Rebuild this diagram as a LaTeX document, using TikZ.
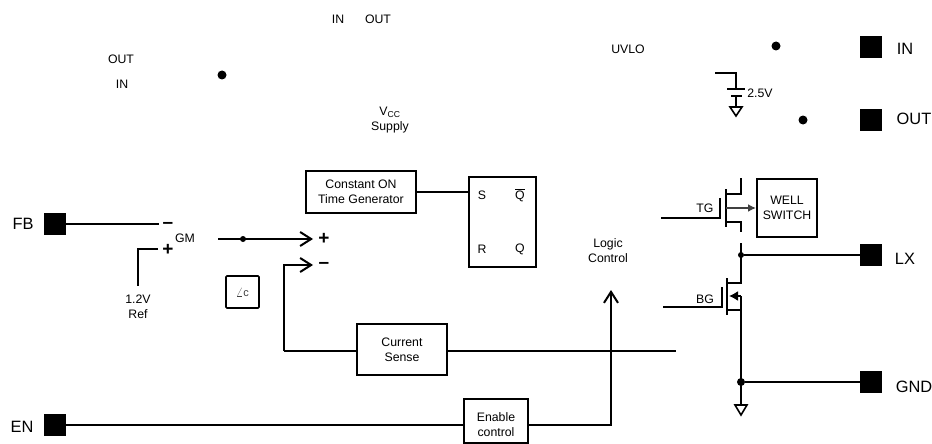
\documentclass[tikz,border=0pt]{standalone}
\usepackage{fontspec}
\setmainfont{Liberation Sans}
\usetikzlibrary{calc,arrows.meta}

\tikzset{
	pad/.style={fill=black, minimum size=22pt, inner sep=0pt},
	padtext/.style={font=\fontsize{16.4}{18}\selectfont},
	txt/.style={font=\fontsize{12.3}{15}\selectfont, align=center, inner sep=0pt},
	sign/.style={font=\fontsize{19}{19}\selectfont\bfseries, inner sep=0pt},
	blockbox/.style={draw, line width=2pt, inner sep=0pt, font=\fontsize{12.3}{15}\selectfont, align=center},
	wire/.style={line width=2pt},
	barb/.style={wire, -{Straight Barb[length=11pt,width=14pt,line width=2pt]}},
	dot/.style={circle, fill=black, inner sep=0pt},
	gndtri/.style={draw, line width=1.6pt, fill=white, line join=miter},
}

\begin{document}
\begin{tikzpicture}[x=1pt, y=-1pt]

% bounding box %{{{1

	\useasboundingbox (0,0) rectangle (932,444);

% pads %{{{1

	\node[pad] (FB) at (55,224) {};
	\node[pad] (EN) at (55,425) {};
	\node[pad] (IN) at (871,47) {};
	\node[pad] (OUT) at (871,120) {};
	\node[pad] (LX) at (871,255) {};
	\node[pad] (GND) at (871,382) {};

	\node[padtext] (FBtext) at (23,224) {FB};
	\node[padtext] (ENtext) at (22,427) {EN};
	\node[padtext] (INtext) at (905,49) {IN};
	\node[padtext] (OUTtext) at (914,119) {OUT};
	\node[padtext] (LXtext) at (905,259) {LX};
	\node[padtext] (GNDtext) at (914,387) {GND};

% blocks %{{{1

	\node[blockbox, minimum width=110pt, minimum height=42pt] (ontime) at (361,192) {Constant ON\\Time Generator};
	\node[blockbox, minimum width=67pt, minimum height=90pt] (latch) at (502.5,222) {};
	\node[blockbox, minimum width=90pt, minimum height=51pt] (sense) at (402,349.5) {Current\\Sense};
	\node[blockbox, minimum width=64pt, minimum height=44pt] (enable) at (496,421) {};
	\node[blockbox, minimum width=60pt, minimum height=58pt] (well) at (787,208) {WELL\\SWITCH};
	\node[draw, line width=1.6pt, rounded corners=1pt, minimum width=33pt, minimum height=32pt, inner sep=0pt, text=black!75, font=\fontsize{13}{13}\selectfont] (comp) at (242.5,292) {$\angle$\fontsize{11}{11}\selectfont c};

% texts %{{{1

	\node[txt] (topin) at (338,19) {IN};
	\node[txt] (topout) at (378,19) {OUT};
	\node[txt] (leftout) at (121,59) {OUT};
	\node[txt] (leftin) at (122,84) {IN};
	\node[txt] (uvlo) at (628,49) {UVLO};
	\node[txt] (vcc) at (390,120) {V\textsubscript{CC}\\Supply};
	\node[txt] (gm) at (185,238) {GM};
	\node[txt] (ref) at (138,307) {1.2V\\Ref};
	\node[txt] (logic) at (608,251) {Logic\\Control};
	\node[txt] (enabletext) at (496,424.5) {Enable\\control};
	\node[txt] (sset) at (482,195) {S};
	\node[txt] (qbar) at (520,196) {Q};
	\node[txt] (rset) at (482,249) {R};
	\node[txt] (q) at (520,249) {Q};
	\node[txt] (tg) at (705,208) {TG};
	\node[txt] (bg) at (705,299) {BG};
	\node[txt] (vtwo) at (760,93) {2.5V};

	\node[sign] (gmminus) at (168,225) {--};
	\node[sign] (gmplus) at (168,250) {+};
	\node[sign] (cmpplus) at (324,239) {+};
	\node[sign] (cmpminus) at (324,265) {--};

% coordinates %{{{1

	\coordinate (FBa) at (138,224);
	\coordinate (FBb) at (159,224);
	\coordinate (REFa) at (158,249);
	\coordinate (REFb) at (138,249);
	\coordinate (REFc) at (138,286);
	\coordinate (GMout) at (218,239);
	\coordinate (GMarrow) at (313,239);
	\coordinate (CSarrow) at (313,265);
	\coordinate (CSa) at (284,265);
	\coordinate (CSb) at (284,351);
	\coordinate (CSc) at (676,351);
	\coordinate (LOGin) at (611,290);
	\coordinate (ENc) at (611,425);

	\coordinate (TGa) at (661,218);
	\coordinate (TGb) at (720,218);
	\coordinate (TGc) at (720,198);
	\coordinate (TGd) at (726,189);
	\coordinate (TGe) at (726,227);
	\coordinate (TGf) at (726,194);
	\coordinate (TGg) at (741,194);
	\coordinate (TGh) at (741,178);
	\coordinate (TGi) at (726,222);
	\coordinate (TGj) at (741,222);
	\coordinate (TGk) at (741,232);
	\coordinate (TGl) at (726,208);

	\coordinate (BGa) at (663,307);
	\coordinate (BGb) at (722,307);
	\coordinate (BGc) at (722,287);
	\coordinate (BGd) at (727,278);
	\coordinate (BGe) at (727,315);
	\coordinate (BGf) at (727,283);
	\coordinate (BGg) at (741,283);
	\coordinate (BGh) at (741,243);
	\coordinate (BGi) at (727,310);
	\coordinate (BGm) at (741,310);
	\coordinate (BGj) at (741,296);
	\coordinate (BGk) at (741,405);
	\coordinate (BGl) at (729,296);

	\coordinate (LXdot) at (741,255);
	\coordinate (GNDdot) at (741,382);

	\coordinate (BATa) at (715,73);
	\coordinate (BATb) at (736,73);
	\coordinate (BATc) at (736,89);
	\coordinate (BATd) at (736,96);
	\coordinate (BATe) at (736,107);

% dots %{{{1

	\node[dot, minimum size=9pt] (dotleft) at (222,75) {};
	\node[dot, minimum size=9pt] (dotin) at (776,46) {};
	\node[dot, minimum size=9pt] (dotout) at (803,120) {};
	\node[dot, minimum size=6pt] (dotgm) at (243,239) {};
	\node[dot, minimum size=6pt] (dotlx) at (LXdot) {};
	\node[dot, minimum size=8pt] (dotgnd) at (GNDdot) {};

% lines %{{{1

	\draw[line width=2.8pt] (FB) -- (FBa);
	\draw[line width=1.3pt] (FBa) -- (FBb);
	\draw[wire] (REFa) -- (REFb) -- (REFc);

	\draw[barb] (GMout) -- (GMarrow);
	\draw[barb] (CSb) -- (CSa) -- (CSarrow);
	\draw[wire] (sense.west |- CSb) -- (CSb);
	\draw[wire] (ontime) -- (ontime -| latch.west);
	\draw[wire] (sense.east |- CSc) -- (CSc);

	\draw[wire] (EN) -- (enable.west |- EN);
	\draw[barb] (enable.east |- ENc) -- (ENc) -- (LOGin);

	\draw[line width=1.3pt] ($(qbar.north)+(-5,-1)$) -- ($(qbar.north)+(5,-1)$);

% transistors %{{{1

	\draw[line width=1.5pt] (TGa) -- (TGb) -- (TGc);
	\draw[line width=2pt] (TGd) -- (TGe);
	\draw[line width=1.5pt] (TGf) -- (TGg) -- (TGh);
	\draw[line width=1.5pt] (TGi) -- (TGj) -- (TGk);
	\draw[line width=1.6pt, black!75, -{Latex[length=8pt,width=8pt]}] (TGl) -- (well);

	\draw[line width=1.5pt] (BGa) -- (BGb) -- (BGc);
	\draw[line width=2.4pt] (BGd) -- (BGe);
	\draw[wire] (BGf) -- (BGg) -- (BGh);
	\draw[wire] (BGi) -- (BGm);
	\draw[wire] (BGj) -- (BGk);
	\draw[line width=1.6pt, -{Latex[length=9pt,width=10pt]}] (BGj) -- (BGl);

	\draw[wire] (dotlx) -- (LX);
	\draw[wire] (dotgnd) -- (GND);
	\draw[gndtri] (BGk) ++(-6,0) -- ++(12,0) -- ++(-6,10) -- cycle;

% supply %{{{1

	\draw[line width=1.5pt] (BATa) -- (BATb) -- (BATc);
	\draw[line width=1.8pt] (727,89) -- (745,89);
	\draw[line width=1.8pt] (731,96) -- (742,96);
	\draw[line width=1.5pt] (BATd) -- (BATe);
	\draw[gndtri] (BATe) ++(-6,0) -- ++(12,0) -- ++(-6,9) -- cycle;

% closing %{{{1

\end{tikzpicture}
\end{document}
